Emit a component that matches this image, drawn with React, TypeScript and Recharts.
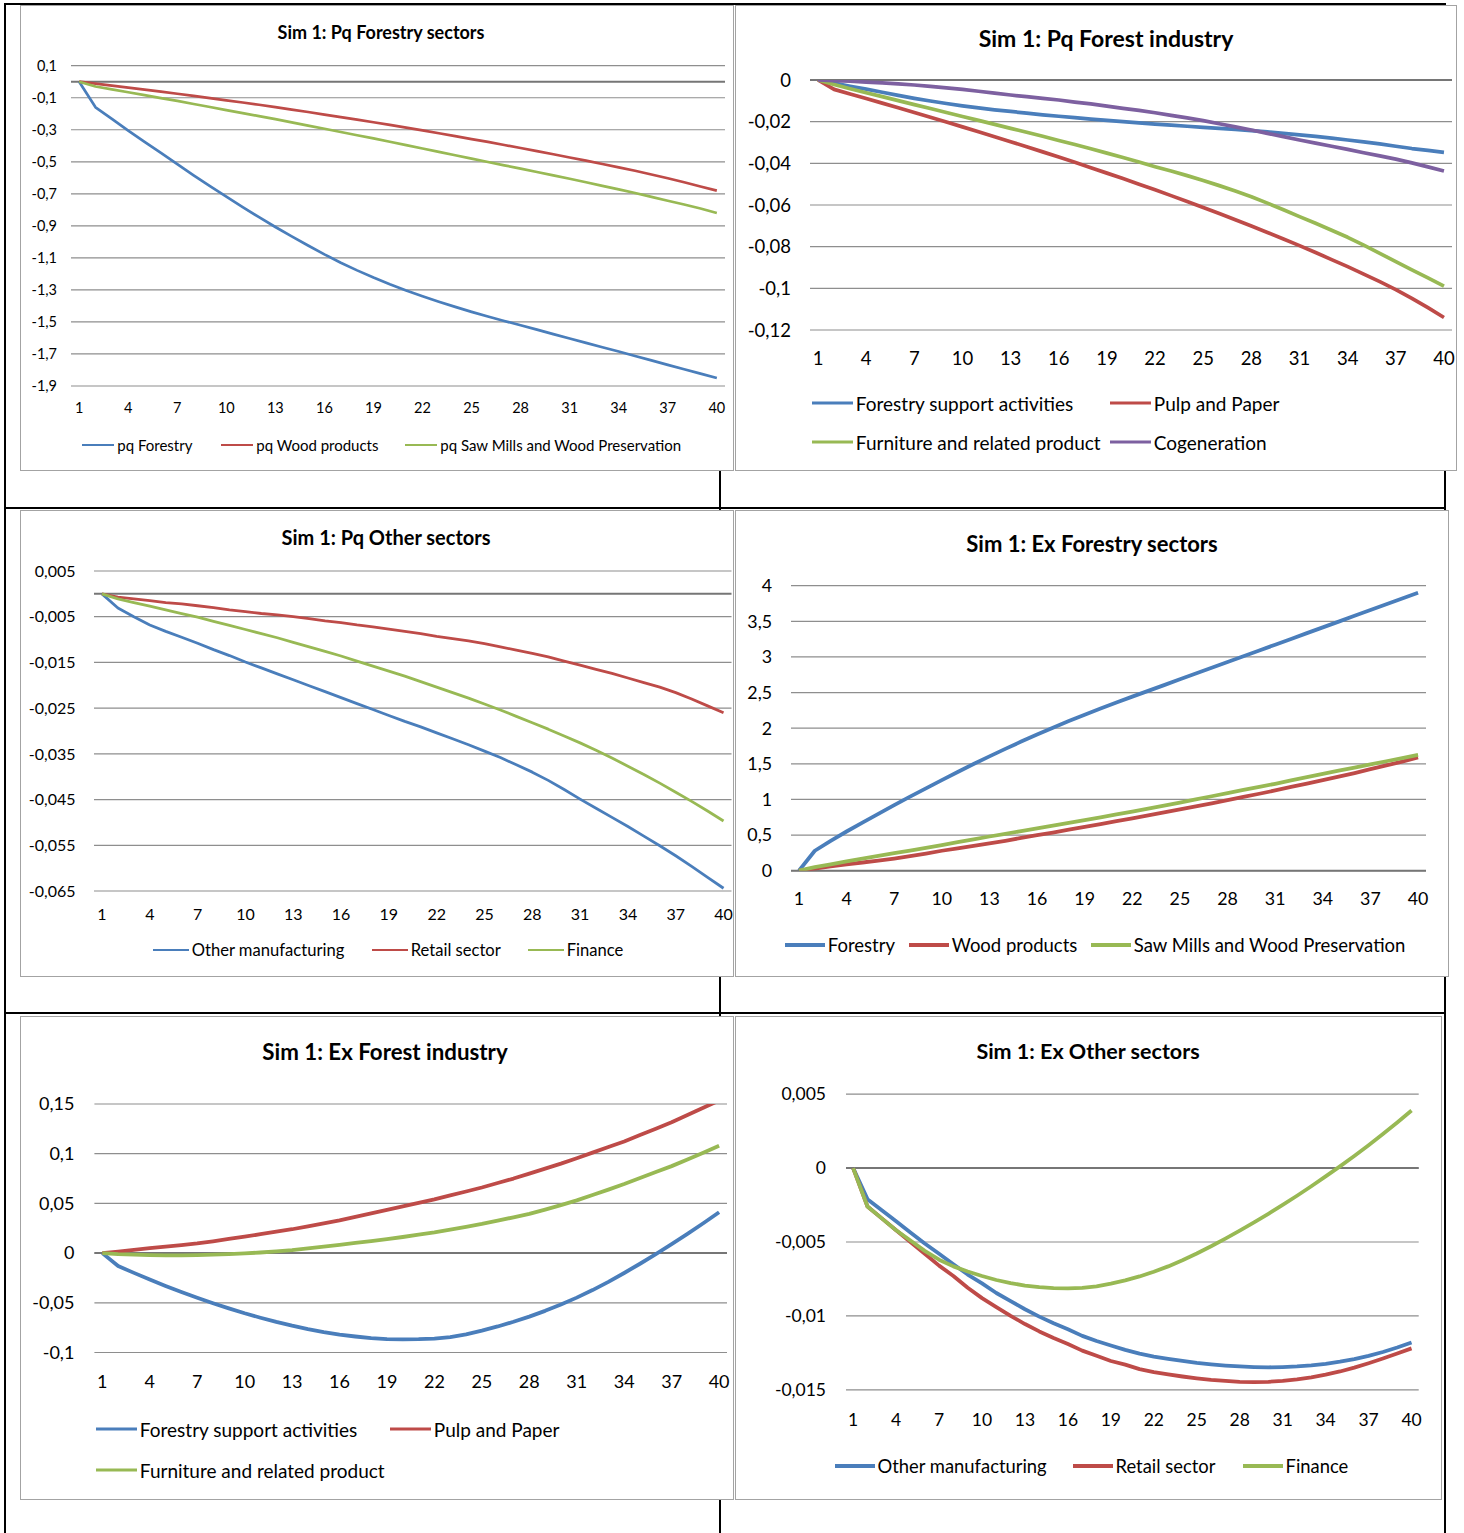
import React from "react";
import { CartesianGrid, Line, LineChart, ReferenceLine, XAxis, YAxis } from "recharts";

const FONT = "Lato, 'Liberation Sans', sans-serif";
const BLUE = "#4a7ebb";
const RED = "#be4b48";
const GREEN = "#98b954";
const PURPLE = "#7d60a0";

const periods = [1, 2, 3, 4, 5, 6, 7, 8, 9, 10, 11, 12, 13, 14, 15, 16, 17, 18, 19, 20, 21, 22, 23, 24, 25, 26, 27, 28, 29, 30, 31, 32, 33, 34, 35, 36, 37, 38, 39, 40];
const xTicks = [1, 4, 7, 10, 13, 16, 19, 22, 25, 28, 31, 34, 37, 40];

// Sim 1: Pq Forestry sectors
const pqForestry = [0, -0.16, -0.232, -0.305, -0.375, -0.445, -0.515, -0.585, -0.652, -0.718, -0.783, -0.846, -0.907, -0.966, -1.023, -1.078, -1.13, -1.178, -1.223, -1.265, -1.304, -1.34, -1.374, -1.406, -1.437, -1.466, -1.494, -1.521, -1.548, -1.576, -1.603, -1.631, -1.658, -1.685, -1.713, -1.74, -1.768, -1.795, -1.823, -1.85];
const pqWood = [0, -0.012, -0.024, -0.037, -0.049, -0.062, -0.075, -0.088, -0.102, -0.116, -0.13, -0.144, -0.159, -0.174, -0.189, -0.205, -0.221, -0.237, -0.253, -0.27, -0.287, -0.304, -0.322, -0.34, -0.358, -0.376, -0.395, -0.414, -0.433, -0.453, -0.473, -0.493, -0.514, -0.535, -0.556, -0.579, -0.603, -0.628, -0.654, -0.68];
const pqSawMills = [0, -0.03, -0.048, -0.066, -0.084, -0.102, -0.12, -0.139, -0.158, -0.177, -0.196, -0.215, -0.234, -0.254, -0.274, -0.294, -0.314, -0.334, -0.354, -0.375, -0.396, -0.417, -0.438, -0.459, -0.48, -0.501, -0.522, -0.543, -0.564, -0.585, -0.606, -0.628, -0.65, -0.672, -0.695, -0.719, -0.743, -0.767, -0.792, -0.82];
const pqForestryTicks = [0.1, -0.1, -0.3, -0.5, -0.7, -0.9, -1.1, -1.3, -1.5, -1.7, -1.9];

// Sim 1: Pq Forest industry
const pqSupport = [0, -0.0015, -0.003, -0.0044, -0.0059, -0.0074, -0.0088, -0.0101, -0.0113, -0.0124, -0.0134, -0.0143, -0.0151, -0.0159, -0.0167, -0.0174, -0.0181, -0.0188, -0.0194, -0.02, -0.0206, -0.0212, -0.0217, -0.0222, -0.0227, -0.0232, -0.0237, -0.0243, -0.0249, -0.0256, -0.0263, -0.0271, -0.0279, -0.0288, -0.0297, -0.0307, -0.0318, -0.0329, -0.0338, -0.0347];
const pqPulp = [0, -0.0045, -0.0067, -0.0089, -0.0111, -0.0133, -0.0156, -0.0179, -0.0202, -0.0225, -0.0248, -0.0272, -0.0296, -0.032, -0.0345, -0.037, -0.0395, -0.0421, -0.0447, -0.0473, -0.05, -0.0527, -0.0555, -0.0583, -0.0612, -0.0641, -0.0671, -0.0701, -0.0732, -0.0763, -0.0795, -0.0828, -0.0862, -0.0896, -0.0932, -0.0968, -0.1006, -0.1048, -0.1093, -0.114];
const pqFurniture = [0, -0.0022, -0.0042, -0.0061, -0.008, -0.0099, -0.0118, -0.0137, -0.0156, -0.0175, -0.0194, -0.0213, -0.0232, -0.0251, -0.027, -0.029, -0.031, -0.033, -0.0351, -0.0372, -0.0394, -0.0416, -0.0437, -0.0459, -0.0482, -0.0507, -0.0533, -0.056, -0.0591, -0.0623, -0.0656, -0.0688, -0.0721, -0.0755, -0.0793, -0.0832, -0.0872, -0.0911, -0.095, -0.0989];
const pqCogeneration = [0, -0.0003, -0.0006, -0.001, -0.0014, -0.0019, -0.0024, -0.0031, -0.0038, -0.0045, -0.0054, -0.0063, -0.0072, -0.008, -0.0088, -0.0096, -0.0106, -0.0115, -0.0125, -0.0136, -0.0146, -0.0157, -0.017, -0.0182, -0.0195, -0.021, -0.0225, -0.024, -0.0256, -0.0272, -0.0288, -0.0303, -0.0318, -0.0333, -0.0349, -0.0364, -0.038, -0.0398, -0.0417, -0.0437];
const pqIndustryTicks = [0, -0.02, -0.04, -0.06, -0.08, -0.1, -0.12];

// Sim 1: Pq Other sectors
const pqOtherManuf = [0, -0.0031, -0.005, -0.0068, -0.0082, -0.0095, -0.0108, -0.0122, -0.0135, -0.0149, -0.0162, -0.0175, -0.0188, -0.0201, -0.0214, -0.0227, -0.024, -0.0253, -0.0266, -0.0279, -0.0291, -0.0304, -0.0317, -0.033, -0.0344, -0.0358, -0.0374, -0.039, -0.0408, -0.0428, -0.0449, -0.0469, -0.0489, -0.0509, -0.053, -0.0551, -0.0573, -0.0596, -0.062, -0.0644];
const pqRetail = [0, -0.0007, -0.0011, -0.0015, -0.0019, -0.0022, -0.0026, -0.003, -0.0035, -0.0039, -0.0043, -0.0046, -0.005, -0.0054, -0.0059, -0.0063, -0.0068, -0.0072, -0.0077, -0.0082, -0.0087, -0.0093, -0.0098, -0.0103, -0.0109, -0.0116, -0.0123, -0.013, -0.0138, -0.0147, -0.0156, -0.0165, -0.0174, -0.0184, -0.0194, -0.0204, -0.0216, -0.023, -0.0245, -0.026];
const pqFinance = [0, -0.0011, -0.0019, -0.0027, -0.0035, -0.0043, -0.0051, -0.006, -0.0069, -0.0078, -0.0087, -0.0096, -0.0106, -0.0116, -0.0126, -0.0136, -0.0147, -0.0158, -0.0169, -0.018, -0.0192, -0.0204, -0.0216, -0.0228, -0.0241, -0.0254, -0.0268, -0.0282, -0.0296, -0.0311, -0.0326, -0.0342, -0.0359, -0.0377, -0.0395, -0.0414, -0.0434, -0.0454, -0.0475, -0.0497];
const pqOtherTicks = [0.005, -0.005, -0.015, -0.025, -0.035, -0.045, -0.055, -0.065];

// Sim 1: Ex Forestry sectors
const exForestry = [0, 0.28, 0.42, 0.55, 0.675, 0.798, 0.92, 1.039, 1.156, 1.272, 1.386, 1.497, 1.605, 1.71, 1.812, 1.911, 2.007, 2.1, 2.19, 2.276, 2.36, 2.443, 2.524, 2.605, 2.686, 2.767, 2.848, 2.929, 3.01, 3.091, 3.172, 3.253, 3.334, 3.415, 3.496, 3.577, 3.658, 3.739, 3.82, 3.901];
const exWood = [0, 0.03, 0.06, 0.09, 0.115, 0.14, 0.17, 0.205, 0.24, 0.28, 0.315, 0.35, 0.385, 0.42, 0.46, 0.5, 0.535, 0.575, 0.615, 0.655, 0.695, 0.735, 0.775, 0.818, 0.86, 0.903, 0.946, 0.99, 1.035, 1.08, 1.127, 1.175, 1.222, 1.27, 1.32, 1.37, 1.425, 1.478, 1.532, 1.59];
const exSawMills = [0, 0.05, 0.09, 0.13, 0.17, 0.207, 0.245, 0.283, 0.321, 0.36, 0.4, 0.44, 0.48, 0.518, 0.556, 0.595, 0.633, 0.671, 0.71, 0.75, 0.79, 0.83, 0.872, 0.913, 0.955, 1.0, 1.045, 1.09, 1.133, 1.176, 1.22, 1.267, 1.313, 1.36, 1.404, 1.448, 1.492, 1.536, 1.58, 1.625];
const exForestryTicks = [4, 3.5, 3, 2.5, 2, 1.5, 1, 0.5, 0];

// Sim 1: Ex Forest industry
const exSupport = [0, -0.013, -0.0199, -0.0266, -0.033, -0.0391, -0.0449, -0.0504, -0.0556, -0.0605, -0.065, -0.0692, -0.073, -0.0764, -0.0794, -0.082, -0.0839, -0.0855, -0.0866, -0.0868, -0.0866, -0.086, -0.0845, -0.0818, -0.078, -0.0738, -0.0691, -0.0639, -0.0581, -0.0517, -0.0448, -0.0372, -0.0289, -0.02, -0.0107, -0.001, 0.009, 0.0193, 0.03, 0.0411];
const exPulp = [0, 0.0015, 0.0032, 0.005, 0.0065, 0.0081, 0.0097, 0.0119, 0.0142, 0.0165, 0.019, 0.0215, 0.024, 0.027, 0.03, 0.033, 0.0365, 0.04, 0.0435, 0.047, 0.0505, 0.054, 0.058, 0.062, 0.066, 0.0705, 0.075, 0.08, 0.085, 0.09, 0.0954, 0.1011, 0.1067, 0.1123, 0.1187, 0.1251, 0.1316, 0.1389, 0.1462, 0.1535];
const exFurniture = [0, -0.001, -0.0016, -0.002, -0.0022, -0.0022, -0.002, -0.0016, -0.001, -0.0003, 0.0006, 0.0017, 0.003, 0.0047, 0.0065, 0.0083, 0.0102, 0.0121, 0.014, 0.0162, 0.0185, 0.0208, 0.0236, 0.0264, 0.0293, 0.0326, 0.036, 0.0394, 0.0438, 0.0483, 0.053, 0.0584, 0.0639, 0.0695, 0.0755, 0.0815, 0.0875, 0.0942, 0.101, 0.108];
const exIndustryTicks = [0.15, 0.1, 0.05, 0, -0.05, -0.1];

// Sim 1: Ex Other sectors
const exOtherManuf = [0, -0.0021, -0.00285, -0.0036, -0.00435, -0.0051, -0.0058, -0.0065, -0.0072, -0.0078, -0.00845, -0.009, -0.00955, -0.01005, -0.0105, -0.0109, -0.01135, -0.0117, -0.012, -0.0123, -0.01255, -0.01275, -0.0129, -0.01305, -0.01318, -0.01328, -0.01336, -0.01342, -0.01346, -0.01348, -0.01346, -0.01342, -0.01335, -0.01324, -0.0131, -0.01292, -0.0127, -0.01244, -0.01214, -0.0118];
const exRetail = [0, -0.0026, -0.0034, -0.0042, -0.005, -0.0058, -0.0066, -0.0073, -0.0081, -0.0088, -0.0094, -0.01, -0.01055, -0.01105, -0.0115, -0.0119, -0.01235, -0.0127, -0.01305, -0.0133, -0.0136, -0.0138, -0.01396, -0.0141, -0.01422, -0.01433, -0.0144, -0.01446, -0.01448, -0.01446, -0.0144, -0.0143, -0.01416, -0.01398, -0.01376, -0.0135, -0.0132, -0.01288, -0.01254, -0.0122];
const exFinance = [0, -0.0026, -0.0034, -0.0042, -0.0049, -0.0056, -0.0062, -0.00665, -0.007, -0.0073, -0.00757, -0.00778, -0.00795, -0.00806, -0.00812, -0.00814, -0.0081, -0.008, -0.00782, -0.0076, -0.00733, -0.00701, -0.00665, -0.00624, -0.00578, -0.00529, -0.00477, -0.00423, -0.00367, -0.00309, -0.00249, -0.00187, -0.00123, -0.00056, 0.00012, 0.00082, 0.00155, 0.00231, 0.00309, 0.0039];
const exOtherTicks = [0.005, 0, -0.005, -0.01, -0.015];

type Series = { key: string; name: string; color: string; values: number[]; lx: number; ly: number };

type Panel = {
  box: { x: number; y: number; w: number; h: number };
  title: string;
  titleX: number;
  titleY: number;
  titleSize: number;
  left: number;
  right: number;
  top: number;
  bottom: number;
  yTicks: number[];
  yGap: number;
  xGap: number;
  tickSize: number;
  legendSize: number;
  lineWidth: number;
  series: Series[];
};

const XH = 30;

const panels: Panel[] = [
  {
    box: { x: 20, y: 5, w: 714, h: 466 },
    title: "Sim 1: Pq Forestry sectors", titleX: 361, titleY: 27, titleSize: 18,
    left: 51, right: 9, top: 60.7, bottom: 85,
    yTicks: pqForestryTicks, yGap: 14, xGap: 22, tickSize: 14.5, legendSize: 15, lineWidth: 2.7,
    series: [
      { key: "a", name: "pq Forestry", color: BLUE, values: pqForestry, lx: 62, ly: 440 },
      { key: "b", name: "pq Wood products", color: RED, values: pqWood, lx: 201, ly: 440 },
      { key: "c", name: "pq Saw Mills and Wood Preservation", color: GREEN, values: pqSawMills, lx: 385, ly: 440 },
    ],
  },
  {
    box: { x: 735, y: 5, w: 722, h: 466 },
    title: "Sim 1: Pq Forest industry", titleX: 371, titleY: 33, titleSize: 23,
    left: 75, right: 5, top: 75, bottom: 141,
    yTicks: pqIndustryTicks, yGap: 19, xGap: 28, tickSize: 18.5, legendSize: 19, lineWidth: 3.7,
    series: [
      { key: "a", name: "Forestry support activities", color: BLUE, values: pqSupport, lx: 77, ly: 398 },
      { key: "b", name: "Pulp and Paper", color: RED, values: pqPulp, lx: 375, ly: 398 },
      { key: "c", name: "Furniture and related product", color: GREEN, values: pqFurniture, lx: 77, ly: 437 },
      { key: "d", name: "Cogeneration", color: PURPLE, values: pqCogeneration, lx: 375, ly: 437 },
    ],
  },
  {
    box: { x: 20, y: 510, w: 714, h: 467 },
    title: "Sim 1: Pq Other sectors", titleX: 366, titleY: 27, titleSize: 20,
    left: 74, right: 2.5, top: 61, bottom: 86,
    yTicks: pqOtherTicks, yGap: 18.5, xGap: 23, tickSize: 16, legendSize: 16.6, lineWidth: 2.8,
    series: [
      { key: "a", name: "Other manufacturing", color: BLUE, values: pqOtherManuf, lx: 133, ly: 440 },
      { key: "b", name: "Retail sector", color: RED, values: pqRetail, lx: 352, ly: 440 },
      { key: "c", name: "Finance", color: GREEN, values: pqFinance, lx: 508, ly: 440 },
    ],
  },
  {
    box: { x: 735, y: 510, w: 714, h: 467 },
    title: "Sim 1: Ex Forestry sectors", titleX: 357, titleY: 33, titleSize: 22,
    left: 56, right: 23, top: 75.7, bottom: 106.3,
    yTicks: exForestryTicks, yGap: 19, xGap: 28, tickSize: 17.8, legendSize: 18.5, lineWidth: 3.8,
    series: [
      { key: "a", name: "Forestry", color: BLUE, values: exForestry, lx: 50, ly: 435 },
      { key: "b", name: "Wood products", color: RED, values: exWood, lx: 174, ly: 435 },
      { key: "c", name: "Saw Mills and Wood Preservation", color: GREEN, values: exSawMills, lx: 356, ly: 435 },
    ],
  },
  {
    box: { x: 20, y: 1016, w: 714, h: 484 },
    title: "Sim 1: Ex Forest industry", titleX: 365, titleY: 35, titleSize: 22.3,
    left: 74.4, right: 7, top: 88, bottom: 147.5,
    yTicks: exIndustryTicks, yGap: 20, xGap: 29.5, tickSize: 18, legendSize: 19, lineWidth: 3.8,
    series: [
      { key: "a", name: "Forestry support activities", color: BLUE, values: exSupport, lx: 76, ly: 413 },
      { key: "b", name: "Pulp and Paper", color: RED, values: exPulp, lx: 370, ly: 413 },
      { key: "c", name: "Furniture and related product", color: GREEN, values: exFurniture, lx: 76, ly: 454 },
    ],
  },
  {
    box: { x: 735, y: 1016, w: 707, h: 484 },
    title: "Sim 1: Ex Other sectors", titleX: 353, titleY: 35, titleSize: 21.5,
    left: 111, right: 23.3, top: 78.2, bottom: 110.2,
    yTicks: exOtherTicks, yGap: 20, xGap: 30, tickSize: 17.5, legendSize: 18.4, lineWidth: 3.8,
    series: [
      { key: "a", name: "Other manufacturing", color: BLUE, values: exOtherManuf, lx: 100, ly: 450 },
      { key: "b", name: "Retail sector", color: RED, values: exRetail, lx: 338, ly: 450 },
      { key: "c", name: "Finance", color: GREEN, values: exFinance, lx: 508, ly: 450 },
    ],
  },
];

const fmt = (v: number) => String(v).replace(".", ",");

function ChartPanel({ p }: { p: Panel }) {
  const rows = periods.map((t, i) => {
    const r: Record<string, number> = { t };
    p.series.forEach((s) => (r[s.key] = s.values[i]));
    return r;
  });
  const ymin = Math.min(...p.yTicks);
  const ymax = Math.max(...p.yTicks);
  const lineLen = p.legendSize * 2.15;
  return (
    <div style={{ position: "absolute", left: p.box.x, top: p.box.y, width: p.box.w, height: p.box.h, background: "#fff", fontFamily: FONT }}>
      <LineChart width={p.box.w} height={p.box.h} data={rows} margin={{ top: p.top, right: p.right, bottom: p.bottom - XH, left: 0 }}>
        <CartesianGrid vertical={false} stroke="#8e8e8e" strokeWidth={1.2} />
        <XAxis
          dataKey="t"
          type="number"
          domain={[0.5, 40.5]}
          ticks={xTicks}
          interval={0}
          axisLine={false}
          tickLine={false}
          tickSize={0}
          tickMargin={p.xGap - 0.355 * p.tickSize}
          height={XH}
          tick={{ fontSize: p.tickSize, fill: "#000", fontFamily: FONT }}
        />
        <YAxis
          type="number"
          domain={[ymin, ymax]}
          ticks={p.yTicks}
          interval={0}
          width={p.left}
          axisLine={false}
          tickLine={false}
          tickSize={0}
          tickMargin={p.yGap}
          tickFormatter={fmt}
          allowDataOverflow
          tick={{ fontSize: p.tickSize, fill: "#000", fontFamily: FONT }}
        />
        <ReferenceLine y={0} stroke="#767676" strokeWidth={2} />
        {p.series.map((s) => (
          <Line key={s.key} type="linear" dataKey={s.key} name={s.name} stroke={s.color} strokeWidth={p.lineWidth} strokeLinejoin="round" dot={false} activeDot={false} isAnimationActive={false} />
        ))}
      </LineChart>
      <div style={{ position: "absolute", left: p.titleX, top: p.titleY, transform: "translate(-50%, -50%)", fontWeight: 700, fontSize: p.titleSize, whiteSpace: "nowrap", color: "#000" }}>
        {p.title}
      </div>
      {p.series.map((s) => (
        <div key={s.key} style={{ position: "absolute", left: s.lx, top: s.ly, transform: "translateY(-50%)", display: "flex", alignItems: "center", whiteSpace: "nowrap", fontSize: p.legendSize, color: "#000" }}>
          <div style={{ width: lineLen, height: p.lineWidth, background: s.color, marginRight: 3 }} />
          <span>{s.name}</span>
        </div>
      ))}
      <div style={{ position: "absolute", inset: 0, border: "1px solid #a3a3a3", pointerEvents: "none" }} />
    </div>
  );
}

const line = (l: number, t: number, w: number, h: number) => (
  <div style={{ position: "absolute", left: l, top: t, width: w, height: h, background: "#000" }} />
);

export default function App() {
  return (
    <div style={{ position: "absolute", left: 0, top: 0, width: 1464, height: 1533, background: "#fff", overflow: "hidden" }}>
      {line(4, 3, 1442, 2)}
      {line(4, 507, 1442, 2)}
      {line(4, 1012, 1442, 2)}
      {line(4, 3, 2, 1530)}
      {line(719, 3, 2, 1530)}
      {line(1444, 3, 2, 1530)}
      {panels.map((p, i) => (
        <ChartPanel key={i} p={p} />
      ))}
    </div>
  );
}
